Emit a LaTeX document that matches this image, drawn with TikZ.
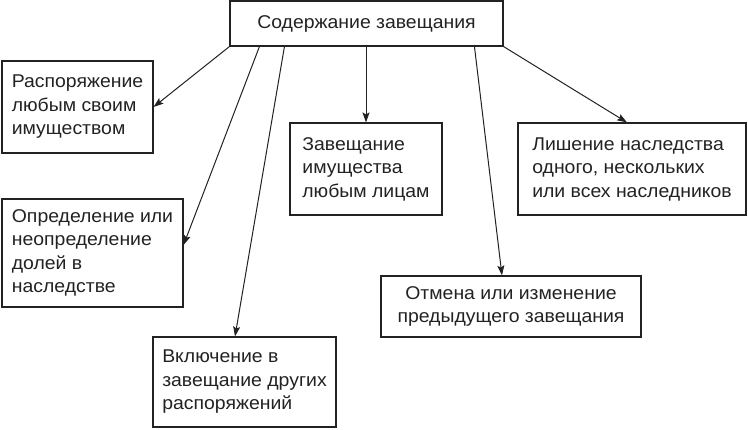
\documentclass[tikz,border=0pt]{standalone}
\usepackage{fontspec}
\setmainfont[FakeStretch=1.05]{Liberation Sans}
\usetikzlibrary{arrows.meta,calc}
\definecolor{ink}{HTML}{222222}
\begin{document}
\begin{tikzpicture}[x=1pt,y=-1pt,
  box/.style={draw=ink,line width=1.1pt,rectangle,inner sep=0pt,text=ink,
    font=\fontsize{18.5}{23.5}\selectfont},
  conn/.style={draw=ink,line width=1pt,-{Stealth[length=10pt,width=7pt,inset=2pt]}}]
\path[use as bounding box] (0,0) rectangle (748,430);
\node[box,align=center,minimum width=273pt,minimum height=45pt] (top) at (366.5,23.5) {Содержание завещания};
\node[box,align=left,minimum width=151pt,minimum height=92pt] (b1) at (77.5,107) {Распоряжение\\любым своим\\имуществом};
\node[box,align=left,minimum width=181pt,minimum height=108pt] (b2) at (92.5,253) {Определение или\\неопределение\\долей в\\наследстве};
\node[box,align=left,minimum width=183pt,minimum height=90pt] (b3) at (244.5,382) {Включение в\\завещание других\\распоряжений};
\node[box,align=left,minimum width=152pt,minimum height=92pt] (b4) at (366,169) {Завещание\\имущества\\любым лицам};
\node[box,align=center,minimum width=260pt,minimum height=61pt] (b5) at (511,306.5) {Отмена или изменение\\предыдущего завещания};
\node[box,align=left,minimum width=228pt,minimum height=92pt] (b6) at (632,169) {Лишение наследства\\одного, нескольких\\или всех наследников};
\draw[conn] (top.south west) -- (b1.east);
\draw[conn] ([xshift=30pt]top.south west) -- ([yshift=8pt]b2.east);
\draw[conn] ([xshift=55pt]top.south west) -- ([xshift=-9.5pt]b3.north);
\draw[conn] (b4.north |- top.south) -- (b4.north);
\draw[conn] ([xshift=245pt]top.south west) -- ([xshift=-9pt]b5.north);
\draw[conn] (top.south east) -- ([xshift=-5pt]b6.north);
\end{tikzpicture}
\end{document}
